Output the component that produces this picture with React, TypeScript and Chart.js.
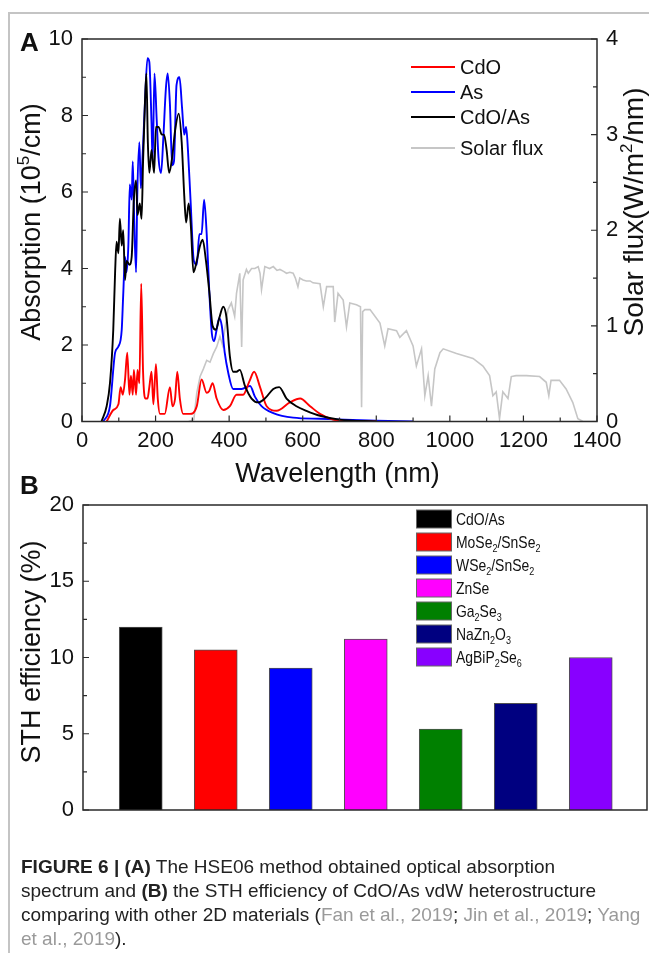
import React, { useEffect, useRef } from "react";
import { Chart, registerables } from "chart.js";

Chart.register(...registerables);

const FONT = "'Liberation Sans', Arial, Helvetica, sans-serif";

// ---------------- Panel A data: [wavelength (nm), value] ----------------
const absorptionCdO: [number, number][] = [
  [67, 0], [85, 0.3], [99, 0.45], [105, 0.9], [111, 0.7], [117, 1.1], [123, 1.8], [129, 0.7],
  [133, 1.2], [138, 0.7], [141, 1.35], [147, 0.7], [151, 1.35], [156, 1.0], [161, 3.6], [166, 1.3],
  [172, 0.6], [178, 0.6], [183, 0.9], [189, 1.3], [194, 0.45], [201, 1.5], [206, 0.6], [212, 0.2],
  [225, 0.2], [239, 0.9], [246, 0.4], [253, 0.6], [259, 1.3], [266, 0.6], [275, 0.2], [293, 0.2],
  [312, 0.4], [325, 1.1], [339, 0.75], [346, 0.8], [355, 1.0], [366, 0.6], [384, 0.3], [402, 0.4],
  [420, 0.7], [438, 0.7], [455, 1.05], [468, 1.3], [484, 0.9], [502, 0.4], [529, 0.28], [565, 0.5],
  [593, 0.6], [620, 0.4], [647, 0.2], [682, 0.05], [720, 0.01], [800, 0],
];

const absorptionAs: [number, number][] = [
  [58, 0], [76, 0.4], [90, 1.8], [99, 1.96], [108, 2.4], [112, 3.3], [117, 4.3], [121, 3.9],
  [126, 4.6], [130, 6.2], [135, 5.8], [138, 6.8], [141, 5.6], [147, 3.9], [150, 5.8], [156, 7.3],
  [160, 6.1], [165, 7.0], [171, 8.3], [178, 9.5], [183, 9.4], [189, 7.8], [192, 6.8], [197, 9.1],
  [203, 7.9], [208, 6.9], [215, 6.5], [221, 7.4], [228, 8.7], [233, 9.1], [239, 8.3], [245, 6.7],
  [250, 6.8], [257, 8.8], [265, 9.0], [272, 8.2], [278, 7.5], [283, 7.7], [288, 7.1], [295, 5.8],
  [304, 4.2], [312, 4.1], [319, 4.9], [325, 4.9], [332, 5.8], [339, 4.9], [346, 3.4], [353, 2.3],
  [359, 2.1], [366, 2.4], [373, 2.7], [380, 2.5], [388, 1.8], [397, 1.3], [411, 0.85], [434, 0.85],
  [457, 0.93], [470, 0.65], [488, 0.4], [520, 0.22], [574, 0.1], [647, 0.07], [800, 0.02], [900, 0],
];

const absorptionCdOAs: [number, number][] = [
  [53, 0], [67, 0.4], [76, 1.0], [85, 2.4], [90, 3.9], [94, 4.7], [99, 4.4], [103, 5.3],
  [108, 4.6], [112, 5.0], [117, 3.7], [121, 4.2], [129, 4.1], [135, 4.3], [141, 5.8], [147, 6.3],
  [151, 5.4], [157, 5.7], [162, 5.3], [166, 6.8], [171, 8.3], [175, 9.1], [179, 7.3], [183, 6.5],
  [189, 7.1], [196, 6.5], [201, 7.7], [208, 7.7], [217, 7.5], [223, 7.5], [230, 7.1], [237, 6.5],
  [245, 6.9], [253, 7.6], [263, 8.05], [271, 7.3], [278, 5.9], [283, 5.2], [290, 5.7], [296, 5.1],
  [303, 3.9], [312, 4.2], [321, 4.6], [328, 4.75], [337, 4.2], [346, 3.4], [355, 2.5], [364, 2.4],
  [373, 2.7], [384, 3.0], [393, 2.7], [402, 1.7], [411, 1.3], [420, 1.3], [429, 1.35], [443, 0.93],
  [461, 0.6], [479, 0.5], [497, 0.6], [520, 0.85], [536, 0.9], [556, 0.6], [583, 0.4], [610, 0.28],
  [647, 0.15], [700, 0.05], [800, 0],
];

const solarFlux: [number, number][] = [
  [290, 0], [304, 0.02], [312, 0.3], [321, 0.47], [330, 0.55], [339, 0.64], [348, 0.62], [357, 0.71],
  [366, 0.78], [375, 0.89], [382, 0.8], [388, 0.96], [397, 1.17], [406, 1.24], [415, 1.1], [420, 1.34],
  [429, 1.55], [434, 0.78], [438, 1.48], [447, 1.59], [452, 1.55], [461, 1.6], [470, 1.6], [479, 1.62],
  [484, 1.55], [488, 1.38], [497, 1.62], [510, 1.6], [520, 1.62], [530, 1.58], [538, 1.59], [548, 1.57],
  [556, 1.55], [565, 1.56], [574, 1.55], [580, 1.5], [587, 1.41], [592, 1.5], [601, 1.48], [610, 1.47],
  [620, 1.47], [628, 1.45], [647, 1.44], [656, 1.2], [665, 1.41], [683, 1.41], [687, 1.04], [696, 1.34],
  [710, 1.27], [719, 0.99], [728, 1.24], [746, 1.22], [757, 1.2], [760, 0.15], [763, 1.15], [769, 1.17],
  [783, 1.17], [810, 1.03], [823, 0.79], [832, 0.97], [855, 0.95], [864, 0.88], [882, 0.95], [900, 0.79],
  [909, 0.58], [923, 0.76], [932, 0.27], [941, 0.48], [950, 0.16], [959, 0.55], [973, 0.72], [982, 0.76],
  [1018, 0.71], [1063, 0.66], [1090, 0.58], [1108, 0.48], [1117, 0.27], [1126, 0.31], [1135, 0.03], [1144, 0.31],
  [1158, 0.24], [1167, 0.47], [1180, 0.48], [1208, 0.48], [1244, 0.47], [1262, 0.41], [1269, 0.27], [1275, 0.43],
  [1298, 0.43], [1316, 0.34], [1334, 0.2], [1348, 0.03], [1362, 0], [1400, 0],
];

const seriesLabelsA = ["CdO", "As", "CdO/As", "Solar flux"];
const seriesColorsA = ["#ff0000", "#0000ff", "#000000", "#c6c6c6"];

const wavelengthTicks = [0, 200, 400, 600, 800, 1000, 1200, 1400];
const absorptionTicks = [0, 2, 4, 6, 8, 10];
const fluxTicks = [0, 1, 2, 3, 4];

// ---------------- Panel B data ----------------
const materials = ["CdO/As", "MoSe2/SnSe2", "WSe2/SnSe2", "ZnSe", "Ga2Se3", "NaZn2O3", "AgBiP2Se6"];
const sthEfficiency = [12.0, 10.5, 9.3, 11.2, 5.3, 7.0, 10.0];
const materialColors = ["#000000", "#ff0000", "#0000ff", "#ff00ff", "#008000", "#000080", "#8800ff"];
const sthTicks = [0, 5, 10, 15, 20];

// ---------------- helpers ----------------
type Run = { t: string; k: "n" | "sup" | "sub" };

function subRuns(label: string): Run[] {
  const runs: Run[] = [];
  const re = /(\d+)|([^\d]+)/g;
  let m: RegExpExecArray | null;
  while ((m = re.exec(label))) {
    if (m[1]) runs.push({ t: m[1], k: "sub" });
    else runs.push({ t: m[2], k: "n" });
  }
  return runs;
}

function drawRuns(ctx: CanvasRenderingContext2D, runs: Run[], x: number, y: number, size: number, align: "left" | "center") {
  const fontFor = (k: string) => `${k === "n" ? size : Math.round(size * 0.62)}px ${FONT}`;
  ctx.textAlign = "left";
  ctx.textBaseline = "alphabetic";
  let total = 0;
  for (const r of runs) {
    ctx.font = fontFor(r.k);
    total += ctx.measureText(r.t).width;
  }
  let cx = align === "center" ? x - total / 2 : x;
  for (const r of runs) {
    ctx.font = fontFor(r.k);
    const dy = r.k === "sup" ? -size * 0.38 : r.k === "sub" ? size * 0.24 : 0;
    ctx.fillText(r.t, cx, y + dy);
    cx += ctx.measureText(r.t).width;
  }
}

function drawVerticalTitle(ctx: CanvasRenderingContext2D, runs: Run[], cx: number, cy: number, size: number) {
  ctx.save();
  ctx.translate(cx, cy);
  ctx.rotate(-Math.PI / 2);
  ctx.fillStyle = "#111";
  drawRuns(ctx, runs, 0, size * 0.36, size, "center");
  ctx.restore();
}

function minorsOf(ticks: number[]) {
  const out: number[] = [];
  for (let i = 0; i < ticks.length - 1; i++) out.push((ticks[i] + ticks[i + 1]) / 2);
  return out;
}

const AXIS = "#2a2a2a";
const B_TOP = 455; // page offset of canvas B

const decorA = {
  id: "decorA",
  afterDraw(chart: any) {
    const { ctx, chartArea: ca, scales } = chart;
    ctx.save();
    ctx.strokeStyle = AXIS;
    ctx.lineWidth = 1.5;
    ctx.strokeRect(ca.left, ca.top, ca.right - ca.left, ca.bottom - ca.top);
    ctx.lineWidth = 1.2;
    ctx.beginPath();
    const xs = scales.x, ys = scales.y, y2 = scales.y2;
    wavelengthTicks.forEach((v) => { const p = xs.getPixelForValue(v); ctx.moveTo(p, ca.bottom); ctx.lineTo(p, ca.bottom - 6); });
    minorsOf(wavelengthTicks).forEach((v) => { const p = xs.getPixelForValue(v); ctx.moveTo(p, ca.bottom); ctx.lineTo(p, ca.bottom - 4); });
    absorptionTicks.forEach((v) => { const p = ys.getPixelForValue(v); ctx.moveTo(ca.left, p); ctx.lineTo(ca.left + 6, p); });
    minorsOf(absorptionTicks).forEach((v) => { const p = ys.getPixelForValue(v); ctx.moveTo(ca.left, p); ctx.lineTo(ca.left + 4, p); });
    fluxTicks.forEach((v) => { const p = y2.getPixelForValue(v); ctx.moveTo(ca.right, p); ctx.lineTo(ca.right - 6, p); });
    minorsOf(fluxTicks).forEach((v) => { const p = y2.getPixelForValue(v); ctx.moveTo(ca.right, p); ctx.lineTo(ca.right - 4, p); });
    ctx.stroke();

    // titles
    drawVerticalTitle(ctx, [{ t: "Absorption (10", k: "n" }, { t: "5", k: "sup" }, { t: "/cm)", k: "n" }], 30, 222, 27);
    drawVerticalTitle(ctx, [{ t: "Solar flux(W/m", k: "n" }, { t: "2", k: "sup" }, { t: "/nm)", k: "n" }], 633, 212, 28);
    ctx.fillStyle = "#111";
    drawRuns(ctx, [{ t: "Wavelength (nm)", k: "n" }], (ca.left + ca.right) / 2 - 2, 482, 27, "center");

    // panel letter
    ctx.font = `bold 26px ${FONT}`;
    ctx.textAlign = "left";
    ctx.textBaseline = "alphabetic";
    ctx.fillText("A", 20, 51);

    // legend
    const rows = [67, 92, 117, 148];
    chart.data.datasets.forEach((ds: any, i: number) => {
      ctx.strokeStyle = ds.borderColor;
      ctx.lineWidth = 2;
      ctx.beginPath();
      ctx.moveTo(411, rows[i]);
      ctx.lineTo(455, rows[i]);
      ctx.stroke();
      ctx.fillStyle = "#111";
      ctx.font = `20px ${FONT}`;
      ctx.textBaseline = "middle";
      ctx.fillText(ds.label, 460, rows[i] + 1);
    });
    ctx.restore();
  },
};

const decorB = {
  id: "decorB",
  afterDraw(chart: any) {
    const { ctx, chartArea: ca, scales } = chart;
    ctx.save();
    ctx.strokeStyle = AXIS;
    ctx.lineWidth = 1.5;
    ctx.strokeRect(ca.left, ca.top, ca.right - ca.left, ca.bottom - ca.top);
    ctx.lineWidth = 1.2;
    ctx.beginPath();
    const ys = scales.y;
    sthTicks.forEach((v) => { const p = ys.getPixelForValue(v); ctx.moveTo(ca.left, p); ctx.lineTo(ca.left + 6, p); });
    minorsOf(sthTicks).forEach((v) => { const p = ys.getPixelForValue(v); ctx.moveTo(ca.left, p); ctx.lineTo(ca.left + 4, p); });
    ctx.stroke();

    drawVerticalTitle(ctx, [{ t: "STH efficiency (%)", k: "n" }], 30, 652 - B_TOP, 27);

    ctx.fillStyle = "#111";
    ctx.font = `bold 26px ${FONT}`;
    ctx.textAlign = "left";
    ctx.textBaseline = "alphabetic";
    ctx.fillText("B", 20, 494 - B_TOP);

    // legend
    const first = 519 - B_TOP;
    const step = 23;
    materials.forEach((m, i) => {
      const cy = first + i * step;
      ctx.fillStyle = materialColors[i];
      ctx.fillRect(416.5, cy - 9, 35, 18);
      ctx.strokeStyle = "#666";
      ctx.lineWidth = 1;
      ctx.strokeRect(416.5, cy - 9, 35, 18);
      ctx.save();
      ctx.translate(456, cy);
      ctx.scale(0.82, 1);
      ctx.fillStyle = "#111";
      drawRuns(ctx, subRuns(m), 0, 6, 17, "left");
      ctx.restore();
    });
    ctx.restore();
  },
};

const tickFont = { family: FONT, size: 22 };

export default function App() {
  const refA = useRef<HTMLCanvasElement>(null);
  const refB = useRef<HTMLCanvasElement>(null);

  useEffect(() => {
    const toXY = (arr: [number, number][]) => arr.map(([x, y]) => ({ x, y }));
    const seriesA = [absorptionCdO, absorptionAs, absorptionCdOAs, solarFlux];
    const orders = [1, 2, 0, 3];
    const plain = (v: any) => String(v);
    const chartA = new Chart(refA.current!, {
      type: "line",
      data: {
        datasets: seriesA.map((s, i) => ({
          label: seriesLabelsA[i],
          data: toXY(s),
          borderColor: seriesColorsA[i],
          backgroundColor: seriesColorsA[i],
          borderWidth: i === 3 ? 1.6 : 1.9,
          pointRadius: 0,
          fill: false,
          order: orders[i],
          yAxisID: i === 3 ? "y2" : "y",
          cubicInterpolationMode: i === 3 ? "default" : "monotone",
          tension: 0,
        })),
      },
      options: {
        animation: false,
        responsive: false,
        maintainAspectRatio: false,
        layout: { padding: { top: 39, left: 0, right: 0, bottom: 0 } },
        plugins: { legend: { display: false }, tooltip: { enabled: false } },
        scales: {
          x: {
            type: "linear", min: 0, max: 1400,
            grid: { display: false, drawTicks: false }, border: { display: false },
            afterBuildTicks: (s: any) => { s.ticks = wavelengthTicks.map((v) => ({ value: v })); },
            ticks: { padding: 6, color: "#111", font: tickFont, maxRotation: 0, autoSkip: false, callback: plain },
            afterFit: (s: any) => { s.height = 78.5; },
          },
          y: {
            position: "left", min: 0, max: 10,
            grid: { display: false, drawTicks: false }, border: { display: false },
            afterBuildTicks: (s: any) => { s.ticks = absorptionTicks.map((v) => ({ value: v })); },
            ticks: { padding: 9, color: "#111", font: tickFont, callback: plain },
            afterFit: (s: any) => { s.width = 82; },
          },
          y2: {
            position: "right", min: 0, max: 4,
            grid: { display: false, drawTicks: false }, border: { display: false },
            afterBuildTicks: (s: any) => { s.ticks = fluxTicks.map((v) => ({ value: v })); },
            ticks: { padding: 9, color: "#111", font: tickFont, callback: plain },
            afterFit: (s: any) => { s.width = 52; },
          },
        },
      } as any,
      plugins: [decorA],
    });

    const chartB = new Chart(refB.current!, {
      type: "bar",
      data: {
        datasets: [
          {
            label: "STH efficiency",
            data: materials.map((m, i) => ({ x: i + 1, y: sthEfficiency[i] })),
            backgroundColor: materialColors,
            borderColor: "#505050",
            borderWidth: 1,
            barThickness: 43,
          },
        ],
      },
      options: {
        animation: false,
        responsive: false,
        maintainAspectRatio: false,
        layout: { padding: { top: 505 - B_TOP, left: 0, right: 2, bottom: 40 } },
        plugins: { legend: { display: false }, tooltip: { enabled: false } },
        scales: {
          x: { type: "linear", min: 0.23, max: 7.75, offset: false, display: false },
          y: {
            position: "left", min: 0, max: 20,
            grid: { display: false, drawTicks: false }, border: { display: false },
            afterBuildTicks: (s: any) => { s.ticks = sthTicks.map((v) => ({ value: v })); },
            ticks: { padding: 9, color: "#111", font: tickFont, callback: plain },
            afterFit: (s: any) => { s.width = 83; },
          },
        },
      } as any,
      plugins: [decorB],
    });

    return () => {
      chartA.destroy();
      chartB.destroy();
    };
  }, []);

  const gray = { color: "#9a9a9a" };

  return (
    <div style={{ position: "absolute", left: 0, top: 0, width: 649, height: 953, overflow: "hidden", background: "#fff", fontFamily: FONT }}>
      <div style={{ position: "absolute", left: 8, top: 12, width: 700, height: 1000, borderTop: "2px solid #c4c4c4", borderLeft: "2px solid #c4c4c4" }} />
      <canvas ref={refA} width={649} height={500} style={{ position: "absolute", left: 0, top: 0, width: 649, height: 500 }} />
      <canvas ref={refB} width={649} height={850 - B_TOP} style={{ position: "absolute", left: 0, top: B_TOP, width: 649, height: 850 - B_TOP }} />
      <div style={{ position: "absolute", left: 21, top: 855, fontSize: 19, lineHeight: "24px", color: "#222", whiteSpace: "nowrap" }}>
        <div><b>FIGURE 6 | (A)</b> The HSE06 method obtained optical absorption</div>
        <div>spectrum and <b>(B)</b> the STH efficiency of CdO/As vdW heterostructure</div>
        <div>comparing with other 2D materials (<span style={gray}>Fan et al., 2019</span>; <span style={gray}>Jin et al., 2019</span>; <span style={gray}>Yang</span></div>
        <div><span style={gray}>et al., 2019</span>).</div>
      </div>
    </div>
  );
}
